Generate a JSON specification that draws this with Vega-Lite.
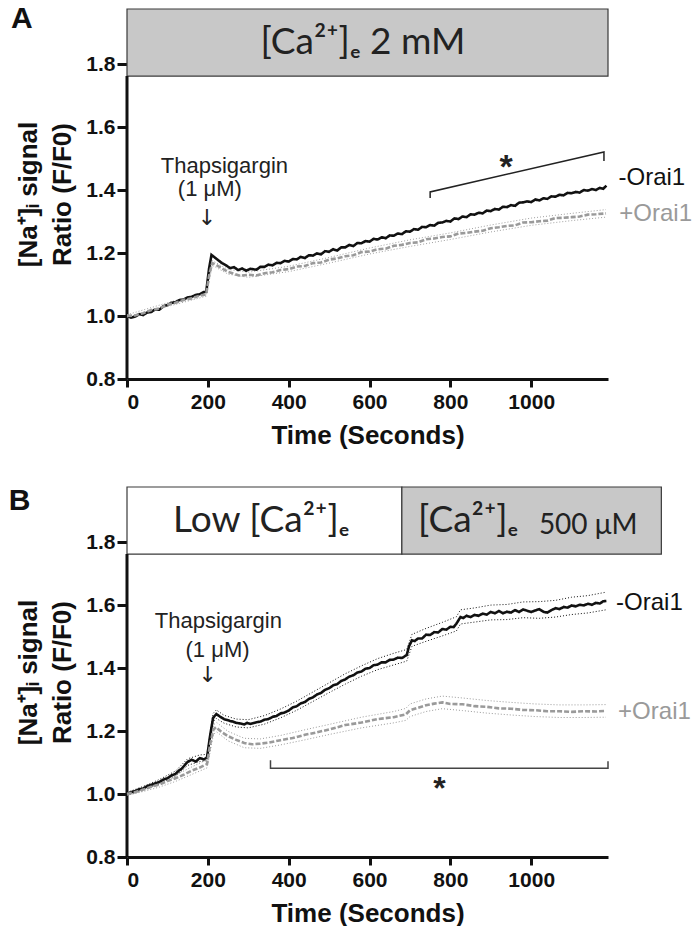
{
  "$schema": "https://vega.github.io/schema/vega-lite/v6.json",
  "background": "white",
  "padding": {"left": 8, "top": 4, "right": 0, "bottom": 0},
  "spacing": 37,
  "config": {
    "view": {"stroke": null},
    "font": "Liberation Sans",
    "axis": {
      "grid": false,
      "domainColor": "#111111",
      "domainWidth": 3,
      "tickColor": "#111111",
      "tickWidth": 3,
      "labelFont": "Liberation Sans",
      "labelFontWeight": "bold",
      "labelFontSize": 21,
      "labelColor": "#111111",
      "titleFont": "Liberation Sans",
      "titleFontWeight": "bold",
      "titleFontSize": 26,
      "titleColor": "#111111"
    },
    "axisX": {"tickSize": 8, "labelPadding": 4, "titlePadding": 10},
    "axisY": {"tickSize": 10, "labelPadding": 2, "titlePadding": 10, "titleLineHeight": 34}
  },
  "datasets": {
    "mainA": [
      {"s": "-Orai1", "t": 0, "v": 1.0}, {"s": "-Orai1", "t": 10, "v": 0.995}, {"s": "-Orai1", "t": 20, "v": 0.998}, {"s": "-Orai1", "t": 30, "v": 1.006}, {"s": "-Orai1", "t": 40, "v": 1.003}, {"s": "-Orai1", "t": 50, "v": 1.011}, {"s": "-Orai1", "t": 60, "v": 1.013}, {"s": "-Orai1", "t": 70, "v": 1.021}, {"s": "-Orai1", "t": 80, "v": 1.02}, {"s": "-Orai1", "t": 90, "v": 1.031}, {"s": "-Orai1", "t": 100, "v": 1.035}, {"s": "-Orai1", "t": 110, "v": 1.042}, {"s": "-Orai1", "t": 120, "v": 1.044}, {"s": "-Orai1", "t": 130, "v": 1.051}, {"s": "-Orai1", "t": 140, "v": 1.052}, {"s": "-Orai1", "t": 150, "v": 1.059}, {"s": "-Orai1", "t": 160, "v": 1.061}, {"s": "-Orai1", "t": 170, "v": 1.067}, {"s": "-Orai1", "t": 180, "v": 1.069}, {"s": "-Orai1", "t": 190, "v": 1.076}, {"s": "-Orai1", "t": 196, "v": 1.077},
      {"s": "-Orai1", "t": 203, "v": 1.15}, {"s": "-Orai1", "t": 209, "v": 1.194}, {"s": "-Orai1", "t": 215, "v": 1.188}, {"s": "-Orai1", "t": 225, "v": 1.178}, {"s": "-Orai1", "t": 235, "v": 1.168}, {"s": "-Orai1", "t": 245, "v": 1.161}, {"s": "-Orai1", "t": 255, "v": 1.152}, {"s": "-Orai1", "t": 265, "v": 1.155}, {"s": "-Orai1", "t": 275, "v": 1.146}, {"s": "-Orai1", "t": 285, "v": 1.151}, {"s": "-Orai1", "t": 295, "v": 1.144}, {"s": "-Orai1", "t": 305, "v": 1.15}, {"s": "-Orai1", "t": 320, "v": 1.147}, {"s": "-Orai1", "t": 330, "v": 1.156}, {"s": "-Orai1", "t": 340, "v": 1.156}, {"s": "-Orai1", "t": 350, "v": 1.163}, {"s": "-Orai1", "t": 360, "v": 1.161}, {"s": "-Orai1", "t": 370, "v": 1.169}, {"s": "-Orai1", "t": 380, "v": 1.168}, {"s": "-Orai1", "t": 390, "v": 1.175}, {"s": "-Orai1", "t": 400, "v": 1.173}, {"s": "-Orai1", "t": 410, "v": 1.181}, {"s": "-Orai1", "t": 420, "v": 1.18}, {"s": "-Orai1", "t": 430, "v": 1.188}, {"s": "-Orai1", "t": 440, "v": 1.184}, {"s": "-Orai1", "t": 450, "v": 1.193}, {"s": "-Orai1", "t": 460, "v": 1.192}, {"s": "-Orai1", "t": 470, "v": 1.199}, {"s": "-Orai1", "t": 480, "v": 1.196}, {"s": "-Orai1", "t": 490, "v": 1.206}, {"s": "-Orai1", "t": 500, "v": 1.204}, {"s": "-Orai1", "t": 510, "v": 1.212}, {"s": "-Orai1", "t": 520, "v": 1.208}, {"s": "-Orai1", "t": 530, "v": 1.218}, {"s": "-Orai1", "t": 540, "v": 1.218}, {"s": "-Orai1", "t": 550, "v": 1.226}, {"s": "-Orai1", "t": 560, "v": 1.222}, {"s": "-Orai1", "t": 570, "v": 1.232}, {"s": "-Orai1", "t": 580, "v": 1.231}, {"s": "-Orai1", "t": 590, "v": 1.238}, {"s": "-Orai1", "t": 600, "v": 1.236}, {"s": "-Orai1", "t": 610, "v": 1.245}, {"s": "-Orai1", "t": 620, "v": 1.243}, {"s": "-Orai1", "t": 630, "v": 1.25}, {"s": "-Orai1", "t": 640, "v": 1.247}, {"s": "-Orai1", "t": 650, "v": 1.256}, {"s": "-Orai1", "t": 660, "v": 1.255}, {"s": "-Orai1", "t": 670, "v": 1.262}, {"s": "-Orai1", "t": 680, "v": 1.26}, {"s": "-Orai1", "t": 690, "v": 1.269}, {"s": "-Orai1", "t": 700, "v": 1.268}, {"s": "-Orai1", "t": 710, "v": 1.276}, {"s": "-Orai1", "t": 720, "v": 1.274}, {"s": "-Orai1", "t": 730, "v": 1.283}, {"s": "-Orai1", "t": 740, "v": 1.282}, {"s": "-Orai1", "t": 750, "v": 1.289}, {"s": "-Orai1", "t": 760, "v": 1.287}, {"s": "-Orai1", "t": 770, "v": 1.296}, {"s": "-Orai1", "t": 780, "v": 1.297}, {"s": "-Orai1", "t": 790, "v": 1.302}, {"s": "-Orai1", "t": 800, "v": 1.3}, {"s": "-Orai1", "t": 810, "v": 1.31}, {"s": "-Orai1", "t": 820, "v": 1.308}, {"s": "-Orai1", "t": 830, "v": 1.316}, {"s": "-Orai1", "t": 840, "v": 1.314}, {"s": "-Orai1", "t": 850, "v": 1.323}, {"s": "-Orai1", "t": 860, "v": 1.322}, {"s": "-Orai1", "t": 870, "v": 1.328}, {"s": "-Orai1", "t": 880, "v": 1.326}, {"s": "-Orai1", "t": 890, "v": 1.335}, {"s": "-Orai1", "t": 900, "v": 1.333}, {"s": "-Orai1", "t": 910, "v": 1.34}, {"s": "-Orai1", "t": 920, "v": 1.338}, {"s": "-Orai1", "t": 930, "v": 1.347}, {"s": "-Orai1", "t": 940, "v": 1.346}, {"s": "-Orai1", "t": 950, "v": 1.352}, {"s": "-Orai1", "t": 960, "v": 1.35}, {"s": "-Orai1", "t": 970, "v": 1.36}, {"s": "-Orai1", "t": 980, "v": 1.361}, {"s": "-Orai1", "t": 990, "v": 1.364}, {"s": "-Orai1", "t": 1000, "v": 1.362}, {"s": "-Orai1", "t": 1010, "v": 1.37}, {"s": "-Orai1", "t": 1020, "v": 1.367}, {"s": "-Orai1", "t": 1030, "v": 1.374}, {"s": "-Orai1", "t": 1040, "v": 1.372}, {"s": "-Orai1", "t": 1050, "v": 1.38}, {"s": "-Orai1", "t": 1060, "v": 1.379}, {"s": "-Orai1", "t": 1070, "v": 1.385}, {"s": "-Orai1", "t": 1080, "v": 1.383}, {"s": "-Orai1", "t": 1090, "v": 1.391}, {"s": "-Orai1", "t": 1100, "v": 1.39}, {"s": "-Orai1", "t": 1110, "v": 1.394}, {"s": "-Orai1", "t": 1120, "v": 1.392}, {"s": "-Orai1", "t": 1130, "v": 1.4}, {"s": "-Orai1", "t": 1140, "v": 1.398}, {"s": "-Orai1", "t": 1150, "v": 1.403}, {"s": "-Orai1", "t": 1160, "v": 1.4}, {"s": "-Orai1", "t": 1170, "v": 1.407}, {"s": "-Orai1", "t": 1178, "v": 1.404}, {"s": "-Orai1", "t": 1186, "v": 1.414},
      {"s": "+Orai1", "t": 0, "v": 1.0}, {"s": "+Orai1", "t": 20, "v": 1.002}, {"s": "+Orai1", "t": 40, "v": 1.009}, {"s": "+Orai1", "t": 60, "v": 1.019}, {"s": "+Orai1", "t": 80, "v": 1.024}, {"s": "+Orai1", "t": 100, "v": 1.036}, {"s": "+Orai1", "t": 120, "v": 1.042}, {"s": "+Orai1", "t": 140, "v": 1.051}, {"s": "+Orai1", "t": 160, "v": 1.056}, {"s": "+Orai1", "t": 180, "v": 1.065}, {"s": "+Orai1", "t": 196, "v": 1.069},
      {"s": "+Orai1", "t": 204, "v": 1.135}, {"s": "+Orai1", "t": 211, "v": 1.168}, {"s": "+Orai1", "t": 220, "v": 1.163}, {"s": "+Orai1", "t": 235, "v": 1.151}, {"s": "+Orai1", "t": 250, "v": 1.14}, {"s": "+Orai1", "t": 265, "v": 1.134}, {"s": "+Orai1", "t": 280, "v": 1.128}, {"s": "+Orai1", "t": 300, "v": 1.131}, {"s": "+Orai1", "t": 320, "v": 1.129}, {"s": "+Orai1", "t": 340, "v": 1.136}, {"s": "+Orai1", "t": 360, "v": 1.139}, {"s": "+Orai1", "t": 380, "v": 1.146}, {"s": "+Orai1", "t": 400, "v": 1.149}, {"s": "+Orai1", "t": 420, "v": 1.157}, {"s": "+Orai1", "t": 440, "v": 1.159}, {"s": "+Orai1", "t": 460, "v": 1.168}, {"s": "+Orai1", "t": 480, "v": 1.17}, {"s": "+Orai1", "t": 500, "v": 1.179}, {"s": "+Orai1", "t": 520, "v": 1.183}, {"s": "+Orai1", "t": 540, "v": 1.19}, {"s": "+Orai1", "t": 560, "v": 1.193}, {"s": "+Orai1", "t": 580, "v": 1.203}, {"s": "+Orai1", "t": 600, "v": 1.205}, {"s": "+Orai1", "t": 620, "v": 1.212}, {"s": "+Orai1", "t": 640, "v": 1.214}, {"s": "+Orai1", "t": 660, "v": 1.223}, {"s": "+Orai1", "t": 680, "v": 1.226}, {"s": "+Orai1", "t": 700, "v": 1.232}, {"s": "+Orai1", "t": 720, "v": 1.234}, {"s": "+Orai1", "t": 740, "v": 1.244}, {"s": "+Orai1", "t": 760, "v": 1.246}, {"s": "+Orai1", "t": 780, "v": 1.251}, {"s": "+Orai1", "t": 800, "v": 1.253}, {"s": "+Orai1", "t": 820, "v": 1.262}, {"s": "+Orai1", "t": 840, "v": 1.264}, {"s": "+Orai1", "t": 860, "v": 1.268}, {"s": "+Orai1", "t": 880, "v": 1.271}, {"s": "+Orai1", "t": 900, "v": 1.279}, {"s": "+Orai1", "t": 920, "v": 1.282}, {"s": "+Orai1", "t": 940, "v": 1.286}, {"s": "+Orai1", "t": 960, "v": 1.288}, {"s": "+Orai1", "t": 980, "v": 1.297}, {"s": "+Orai1", "t": 1000, "v": 1.298}, {"s": "+Orai1", "t": 1020, "v": 1.301}, {"s": "+Orai1", "t": 1040, "v": 1.303}, {"s": "+Orai1", "t": 1060, "v": 1.311}, {"s": "+Orai1", "t": 1080, "v": 1.312}, {"s": "+Orai1", "t": 1100, "v": 1.314}, {"s": "+Orai1", "t": 1120, "v": 1.316}, {"s": "+Orai1", "t": 1140, "v": 1.322}, {"s": "+Orai1", "t": 1160, "v": 1.323}, {"s": "+Orai1", "t": 1185, "v": 1.326}
    ],
    "mainB": [
      {"s": "-Orai1", "t": 0, "v": 1.0}, {"s": "-Orai1", "t": 10, "v": 1.006}, {"s": "-Orai1", "t": 20, "v": 1.009}, {"s": "-Orai1", "t": 30, "v": 1.015}, {"s": "-Orai1", "t": 40, "v": 1.017}, {"s": "-Orai1", "t": 50, "v": 1.025}, {"s": "-Orai1", "t": 60, "v": 1.029}, {"s": "-Orai1", "t": 70, "v": 1.034}, {"s": "-Orai1", "t": 80, "v": 1.038}, {"s": "-Orai1", "t": 90, "v": 1.046}, {"s": "-Orai1", "t": 100, "v": 1.05}, {"s": "-Orai1", "t": 110, "v": 1.059}, {"s": "-Orai1", "t": 120, "v": 1.064}, {"s": "-Orai1", "t": 128, "v": 1.074}, {"s": "-Orai1", "t": 135, "v": 1.08}, {"s": "-Orai1", "t": 143, "v": 1.092}, {"s": "-Orai1", "t": 150, "v": 1.102}, {"s": "-Orai1", "t": 160, "v": 1.109}, {"s": "-Orai1", "t": 170, "v": 1.103}, {"s": "-Orai1", "t": 180, "v": 1.114}, {"s": "-Orai1", "t": 190, "v": 1.11}, {"s": "-Orai1", "t": 198, "v": 1.116},
      {"s": "-Orai1", "t": 205, "v": 1.18}, {"s": "-Orai1", "t": 213, "v": 1.242}, {"s": "-Orai1", "t": 221, "v": 1.254}, {"s": "-Orai1", "t": 230, "v": 1.246}, {"s": "-Orai1", "t": 240, "v": 1.238}, {"s": "-Orai1", "t": 248, "v": 1.235}, {"s": "-Orai1", "t": 255, "v": 1.232}, {"s": "-Orai1", "t": 262, "v": 1.23}, {"s": "-Orai1", "t": 270, "v": 1.226}, {"s": "-Orai1", "t": 280, "v": 1.224}, {"s": "-Orai1", "t": 290, "v": 1.221}, {"s": "-Orai1", "t": 297, "v": 1.226}, {"s": "-Orai1", "t": 305, "v": 1.223}, {"s": "-Orai1", "t": 320, "v": 1.228}, {"s": "-Orai1", "t": 330, "v": 1.23}, {"s": "-Orai1", "t": 340, "v": 1.236}, {"s": "-Orai1", "t": 350, "v": 1.238}, {"s": "-Orai1", "t": 360, "v": 1.245}, {"s": "-Orai1", "t": 370, "v": 1.248}, {"s": "-Orai1", "t": 380, "v": 1.256}, {"s": "-Orai1", "t": 390, "v": 1.259}, {"s": "-Orai1", "t": 400, "v": 1.265}, {"s": "-Orai1", "t": 410, "v": 1.275}, {"s": "-Orai1", "t": 420, "v": 1.279}, {"s": "-Orai1", "t": 430, "v": 1.288}, {"s": "-Orai1", "t": 440, "v": 1.292}, {"s": "-Orai1", "t": 450, "v": 1.302}, {"s": "-Orai1", "t": 460, "v": 1.307}, {"s": "-Orai1", "t": 470, "v": 1.316}, {"s": "-Orai1", "t": 480, "v": 1.321}, {"s": "-Orai1", "t": 490, "v": 1.331}, {"s": "-Orai1", "t": 500, "v": 1.336}, {"s": "-Orai1", "t": 510, "v": 1.345}, {"s": "-Orai1", "t": 520, "v": 1.349}, {"s": "-Orai1", "t": 530, "v": 1.359}, {"s": "-Orai1", "t": 540, "v": 1.364}, {"s": "-Orai1", "t": 550, "v": 1.373}, {"s": "-Orai1", "t": 560, "v": 1.377}, {"s": "-Orai1", "t": 570, "v": 1.386}, {"s": "-Orai1", "t": 580, "v": 1.389}, {"s": "-Orai1", "t": 590, "v": 1.398}, {"s": "-Orai1", "t": 600, "v": 1.4}, {"s": "-Orai1", "t": 610, "v": 1.409}, {"s": "-Orai1", "t": 620, "v": 1.411}, {"s": "-Orai1", "t": 630, "v": 1.418}, {"s": "-Orai1", "t": 640, "v": 1.418}, {"s": "-Orai1", "t": 650, "v": 1.426}, {"s": "-Orai1", "t": 660, "v": 1.427}, {"s": "-Orai1", "t": 670, "v": 1.433}, {"s": "-Orai1", "t": 680, "v": 1.432}, {"s": "-Orai1", "t": 692, "v": 1.441},
      {"s": "-Orai1", "t": 698, "v": 1.47}, {"s": "-Orai1", "t": 705, "v": 1.488}, {"s": "-Orai1", "t": 712, "v": 1.486}, {"s": "-Orai1", "t": 720, "v": 1.494}, {"s": "-Orai1", "t": 730, "v": 1.494}, {"s": "-Orai1", "t": 740, "v": 1.506}, {"s": "-Orai1", "t": 750, "v": 1.505}, {"s": "-Orai1", "t": 760, "v": 1.514}, {"s": "-Orai1", "t": 770, "v": 1.513}, {"s": "-Orai1", "t": 780, "v": 1.524}, {"s": "-Orai1", "t": 790, "v": 1.522}, {"s": "-Orai1", "t": 800, "v": 1.531}, {"s": "-Orai1", "t": 808, "v": 1.53}, {"s": "-Orai1", "t": 815, "v": 1.541}, {"s": "-Orai1", "t": 825, "v": 1.562}, {"s": "-Orai1", "t": 832, "v": 1.559}, {"s": "-Orai1", "t": 840, "v": 1.566}, {"s": "-Orai1", "t": 850, "v": 1.562}, {"s": "-Orai1", "t": 860, "v": 1.569}, {"s": "-Orai1", "t": 870, "v": 1.566}, {"s": "-Orai1", "t": 880, "v": 1.573}, {"s": "-Orai1", "t": 890, "v": 1.57}, {"s": "-Orai1", "t": 900, "v": 1.578}, {"s": "-Orai1", "t": 910, "v": 1.574}, {"s": "-Orai1", "t": 920, "v": 1.581}, {"s": "-Orai1", "t": 930, "v": 1.574}, {"s": "-Orai1", "t": 940, "v": 1.579}, {"s": "-Orai1", "t": 950, "v": 1.576}, {"s": "-Orai1", "t": 960, "v": 1.584}, {"s": "-Orai1", "t": 970, "v": 1.578}, {"s": "-Orai1", "t": 980, "v": 1.586}, {"s": "-Orai1", "t": 990, "v": 1.582}, {"s": "-Orai1", "t": 1000, "v": 1.578}, {"s": "-Orai1", "t": 1010, "v": 1.583}, {"s": "-Orai1", "t": 1020, "v": 1.587}, {"s": "-Orai1", "t": 1030, "v": 1.579}, {"s": "-Orai1", "t": 1040, "v": 1.576}, {"s": "-Orai1", "t": 1050, "v": 1.584}, {"s": "-Orai1", "t": 1060, "v": 1.59}, {"s": "-Orai1", "t": 1070, "v": 1.587}, {"s": "-Orai1", "t": 1080, "v": 1.594}, {"s": "-Orai1", "t": 1090, "v": 1.592}, {"s": "-Orai1", "t": 1100, "v": 1.599}, {"s": "-Orai1", "t": 1110, "v": 1.596}, {"s": "-Orai1", "t": 1120, "v": 1.601}, {"s": "-Orai1", "t": 1130, "v": 1.599}, {"s": "-Orai1", "t": 1140, "v": 1.604}, {"s": "-Orai1", "t": 1150, "v": 1.601}, {"s": "-Orai1", "t": 1160, "v": 1.607}, {"s": "-Orai1", "t": 1170, "v": 1.605}, {"s": "-Orai1", "t": 1178, "v": 1.612}, {"s": "-Orai1", "t": 1186, "v": 1.613},
      {"s": "+Orai1", "t": 0, "v": 1.0}, {"s": "+Orai1", "t": 20, "v": 1.006}, {"s": "+Orai1", "t": 40, "v": 1.014}, {"s": "+Orai1", "t": 60, "v": 1.023}, {"s": "+Orai1", "t": 80, "v": 1.03}, {"s": "+Orai1", "t": 100, "v": 1.041}, {"s": "+Orai1", "t": 120, "v": 1.05}, {"s": "+Orai1", "t": 140, "v": 1.061}, {"s": "+Orai1", "t": 160, "v": 1.074}, {"s": "+Orai1", "t": 180, "v": 1.084}, {"s": "+Orai1", "t": 198, "v": 1.096},
      {"s": "+Orai1", "t": 206, "v": 1.16}, {"s": "+Orai1", "t": 214, "v": 1.205}, {"s": "+Orai1", "t": 220, "v": 1.212}, {"s": "+Orai1", "t": 235, "v": 1.196}, {"s": "+Orai1", "t": 250, "v": 1.184}, {"s": "+Orai1", "t": 270, "v": 1.172}, {"s": "+Orai1", "t": 290, "v": 1.162}, {"s": "+Orai1", "t": 310, "v": 1.158}, {"s": "+Orai1", "t": 330, "v": 1.16}, {"s": "+Orai1", "t": 350, "v": 1.163}, {"s": "+Orai1", "t": 380, "v": 1.171}, {"s": "+Orai1", "t": 410, "v": 1.178}, {"s": "+Orai1", "t": 440, "v": 1.188}, {"s": "+Orai1", "t": 470, "v": 1.196}, {"s": "+Orai1", "t": 500, "v": 1.205}, {"s": "+Orai1", "t": 540, "v": 1.219}, {"s": "+Orai1", "t": 580, "v": 1.227}, {"s": "+Orai1", "t": 620, "v": 1.238}, {"s": "+Orai1", "t": 660, "v": 1.244}, {"s": "+Orai1", "t": 690, "v": 1.253}, {"s": "+Orai1", "t": 700, "v": 1.266}, {"s": "+Orai1", "t": 720, "v": 1.274}, {"s": "+Orai1", "t": 740, "v": 1.282}, {"s": "+Orai1", "t": 760, "v": 1.287}, {"s": "+Orai1", "t": 780, "v": 1.291}, {"s": "+Orai1", "t": 800, "v": 1.286}, {"s": "+Orai1", "t": 830, "v": 1.285}, {"s": "+Orai1", "t": 860, "v": 1.279}, {"s": "+Orai1", "t": 890, "v": 1.277}, {"s": "+Orai1", "t": 920, "v": 1.272}, {"s": "+Orai1", "t": 950, "v": 1.271}, {"s": "+Orai1", "t": 980, "v": 1.267}, {"s": "+Orai1", "t": 1010, "v": 1.266}, {"s": "+Orai1", "t": 1040, "v": 1.263}, {"s": "+Orai1", "t": 1070, "v": 1.263}, {"s": "+Orai1", "t": 1100, "v": 1.261}, {"s": "+Orai1", "t": 1130, "v": 1.263}, {"s": "+Orai1", "t": 1160, "v": 1.262}, {"s": "+Orai1", "t": 1185, "v": 1.264}
    ],
    "bandA": [
      {"s": "+Orai1", "t": 0, "lo": 0.996, "hi": 1.004}, {"s": "+Orai1", "t": 100, "lo": 1.03, "hi": 1.042}, {"s": "+Orai1", "t": 196, "lo": 1.063, "hi": 1.076}, {"s": "+Orai1", "t": 211, "lo": 1.161, "hi": 1.176}, {"s": "+Orai1", "t": 250, "lo": 1.133, "hi": 1.148}, {"s": "+Orai1", "t": 300, "lo": 1.123, "hi": 1.139}, {"s": "+Orai1", "t": 400, "lo": 1.141, "hi": 1.158}, {"s": "+Orai1", "t": 500, "lo": 1.168, "hi": 1.186}, {"s": "+Orai1", "t": 600, "lo": 1.197, "hi": 1.216}, {"s": "+Orai1", "t": 700, "lo": 1.221, "hi": 1.242}, {"s": "+Orai1", "t": 800, "lo": 1.243, "hi": 1.264}, {"s": "+Orai1", "t": 900, "lo": 1.267, "hi": 1.289}, {"s": "+Orai1", "t": 1000, "lo": 1.288, "hi": 1.311}, {"s": "+Orai1", "t": 1100, "lo": 1.303, "hi": 1.326}, {"s": "+Orai1", "t": 1185, "lo": 1.314, "hi": 1.338}
    ],
    "bandB": [
      {"s": "-Orai1", "t": 0, "lo": 0.995, "hi": 1.005}, {"s": "-Orai1", "t": 40, "lo": 1.012, "hi": 1.024}, {"s": "-Orai1", "t": 80, "lo": 1.032, "hi": 1.046}, {"s": "-Orai1", "t": 120, "lo": 1.056, "hi": 1.073}, {"s": "-Orai1", "t": 150, "lo": 1.091, "hi": 1.112}, {"s": "-Orai1", "t": 180, "lo": 1.103, "hi": 1.124}, {"s": "-Orai1", "t": 198, "lo": 1.106, "hi": 1.126}, {"s": "-Orai1", "t": 213, "lo": 1.229, "hi": 1.256}, {"s": "-Orai1", "t": 221, "lo": 1.24, "hi": 1.267}, {"s": "-Orai1", "t": 240, "lo": 1.225, "hi": 1.25}, {"s": "-Orai1", "t": 270, "lo": 1.213, "hi": 1.238}, {"s": "-Orai1", "t": 300, "lo": 1.21, "hi": 1.236}, {"s": "-Orai1", "t": 340, "lo": 1.222, "hi": 1.249}, {"s": "-Orai1", "t": 380, "lo": 1.242, "hi": 1.27}, {"s": "-Orai1", "t": 420, "lo": 1.266, "hi": 1.295}, {"s": "-Orai1", "t": 460, "lo": 1.294, "hi": 1.324}, {"s": "-Orai1", "t": 500, "lo": 1.322, "hi": 1.353}, {"s": "-Orai1", "t": 540, "lo": 1.349, "hi": 1.382}, {"s": "-Orai1", "t": 580, "lo": 1.374, "hi": 1.407}, {"s": "-Orai1", "t": 620, "lo": 1.395, "hi": 1.43}, {"s": "-Orai1", "t": 660, "lo": 1.41, "hi": 1.447}, {"s": "-Orai1", "t": 692, "lo": 1.422, "hi": 1.459}, {"s": "-Orai1", "t": 705, "lo": 1.469, "hi": 1.507}, {"s": "-Orai1", "t": 740, "lo": 1.485, "hi": 1.526}, {"s": "-Orai1", "t": 780, "lo": 1.502, "hi": 1.545}, {"s": "-Orai1", "t": 815, "lo": 1.518, "hi": 1.563}, {"s": "-Orai1", "t": 825, "lo": 1.54, "hi": 1.585}, {"s": "-Orai1", "t": 860, "lo": 1.546, "hi": 1.591}, {"s": "-Orai1", "t": 900, "lo": 1.553, "hi": 1.6}, {"s": "-Orai1", "t": 940, "lo": 1.554, "hi": 1.602}, {"s": "-Orai1", "t": 980, "lo": 1.56, "hi": 1.61}, {"s": "-Orai1", "t": 1020, "lo": 1.558, "hi": 1.611}, {"s": "-Orai1", "t": 1060, "lo": 1.562, "hi": 1.615}, {"s": "-Orai1", "t": 1100, "lo": 1.57, "hi": 1.625}, {"s": "-Orai1", "t": 1140, "lo": 1.575, "hi": 1.63}, {"s": "-Orai1", "t": 1185, "lo": 1.585, "hi": 1.641},
      {"s": "+Orai1", "t": 0, "lo": 0.996, "hi": 1.004}, {"s": "+Orai1", "t": 40, "lo": 1.008, "hi": 1.02}, {"s": "+Orai1", "t": 80, "lo": 1.022, "hi": 1.038}, {"s": "+Orai1", "t": 120, "lo": 1.04, "hi": 1.06}, {"s": "+Orai1", "t": 160, "lo": 1.062, "hi": 1.086}, {"s": "+Orai1", "t": 198, "lo": 1.083, "hi": 1.109}, {"s": "+Orai1", "t": 214, "lo": 1.19, "hi": 1.22}, {"s": "+Orai1", "t": 222, "lo": 1.197, "hi": 1.227}, {"s": "+Orai1", "t": 250, "lo": 1.169, "hi": 1.199}, {"s": "+Orai1", "t": 290, "lo": 1.147, "hi": 1.177}, {"s": "+Orai1", "t": 330, "lo": 1.145, "hi": 1.175}, {"s": "+Orai1", "t": 380, "lo": 1.156, "hi": 1.186}, {"s": "+Orai1", "t": 440, "lo": 1.172, "hi": 1.204}, {"s": "+Orai1", "t": 500, "lo": 1.189, "hi": 1.221}, {"s": "+Orai1", "t": 580, "lo": 1.21, "hi": 1.244}, {"s": "+Orai1", "t": 660, "lo": 1.226, "hi": 1.262}, {"s": "+Orai1", "t": 690, "lo": 1.234, "hi": 1.272}, {"s": "+Orai1", "t": 700, "lo": 1.246, "hi": 1.286}, {"s": "+Orai1", "t": 740, "lo": 1.262, "hi": 1.302}, {"s": "+Orai1", "t": 780, "lo": 1.271, "hi": 1.311}, {"s": "+Orai1", "t": 830, "lo": 1.265, "hi": 1.305}, {"s": "+Orai1", "t": 890, "lo": 1.257, "hi": 1.297}, {"s": "+Orai1", "t": 950, "lo": 1.251, "hi": 1.291}, {"s": "+Orai1", "t": 1010, "lo": 1.246, "hi": 1.286}, {"s": "+Orai1", "t": 1070, "lo": 1.243, "hi": 1.283}, {"s": "+Orai1", "t": 1130, "lo": 1.243, "hi": 1.283}, {"s": "+Orai1", "t": 1185, "lo": 1.244, "hi": 1.284}
    ]
  },
  "vconcat": [
    {
      "width": 481,
      "height": 370,
      "encoding": {
        "x": {"field": "t", "type": "quantitative", "scale": {"domain": [0, 1190], "nice": false, "zero": false}, "axis": {"values": [0, 200, 400, 600, 800, 1000], "format": "d", "title": "Time (Seconds)"}},
        "y": {"field": "v", "type": "quantitative", "scale": {"domain": [0.8, 1.975], "nice": false, "zero": false}, "axis": {"values": [0.8, 1.0, 1.2, 1.4, 1.6, 1.8], "format": ".1f", "title": ["[Na⁺]ᵢ signal", "Ratio (F/F0)"], "domain": false}}
      },
      "layer": [
        {"data": {"values": [{"t": 0, "t2": 1190, "v": 1.762, "v2": 1.975}]}, "mark": {"type": "rect", "fill": "#c8c8c8", "stroke": "#3a3a3a", "strokeWidth": 1.2, "clip": false}, "encoding": {"x2": {"field": "t2"}, "y2": {"field": "v2"}}},
        {"data": {"values": [{"t": 330, "v": 1.866, "label": "[Ca²⁺]ₑ 2 mM"}]}, "mark": {"type": "text", "font": "Lato", "fontSize": 37, "color": "#222222", "align": "left", "baseline": "middle", "clip": false}, "encoding": {"text": {"field": "label"}}},
        {"data": {"values": [{"t": 0, "v": 0.8, "v2": 1.762}]}, "mark": {"type": "rule", "strokeWidth": 3, "color": "#111111"}, "encoding": {"y2": {"field": "v2"}}},
        {"data": {"name": "bandA"}, "transform": [{"fold": ["lo", "hi"], "as": ["side", "v"]}], "mark": {"type": "line", "strokeWidth": 1, "strokeDash": [1, 2], "color": "#a0a0a0"}, "encoding": {"detail": {"field": "side", "type": "nominal"}}},
        {"data": {"name": "mainA"}, "mark": {"type": "line", "strokeWidth": 2.6}, "encoding": {
          "color": {"field": "s", "type": "nominal", "scale": {"domain": ["-Orai1", "+Orai1"], "range": ["#111111", "#9a9a9a"]}, "legend": null},
          "strokeDash": {"field": "s", "type": "nominal", "scale": {"domain": ["-Orai1", "+Orai1"], "range": [[1, 0], [5, 2]]}, "legend": null}}},
        {"data": {"values": [{"t": 750, "v": 1.375, "i": 0}, {"t": 750, "v": 1.394, "i": 1}, {"t": 1180, "v": 1.521, "i": 2}, {"t": 1180, "v": 1.492, "i": 3}]}, "mark": {"type": "line", "strokeWidth": 1.5, "color": "#222222", "clip": false}, "encoding": {"order": {"field": "i", "type": "quantitative"}}},
        {"data": {"values": [{"t": 938, "v": 1.47, "label": "*"}]}, "mark": {"type": "text", "fontSize": 34, "fontWeight": "bold", "color": "#222222", "align": "center", "baseline": "middle"}, "encoding": {"text": {"field": "label"}}},
        {"data": {"values": [{"t": 241, "v": 1.476, "label": "Thapsigargin"}, {"t": 205, "v": 1.403, "label": "(1 μM)"}]}, "mark": {"type": "text", "fontSize": 22, "color": "#222222", "align": "center", "baseline": "middle"}, "encoding": {"text": {"field": "label"}}},
        {"data": {"values": [{"t": 198, "v": 1.311, "label": "↓"}]}, "mark": {"type": "text", "fontSize": 22, "font": "DejaVu Sans", "color": "#222222", "align": "center", "baseline": "middle"}, "encoding": {"text": {"field": "label"}}},
        {"data": {"values": [{"t": 1216, "v": 1.438, "s": "-Orai1"}, {"t": 1218, "v": 1.324, "s": "+Orai1"}]}, "mark": {"type": "text", "fontSize": 24, "align": "left", "baseline": "middle", "clip": false}, "encoding": {"text": {"field": "s"}, "color": {"field": "s", "type": "nominal", "legend": null}}},
        {"data": {"values": [{"t": -260, "v": 1.943, "label": "A"}]}, "mark": {"type": "text", "fontSize": 30, "fontWeight": "bold", "color": "#111111", "align": "center", "baseline": "middle", "clip": false}, "encoding": {"text": {"field": "label"}}}
      ]
    },
    {
      "width": 481,
      "height": 370,
      "encoding": {
        "x": {"field": "t", "type": "quantitative", "scale": {"domain": [0, 1190], "nice": false, "zero": false}, "axis": {"values": [0, 200, 400, 600, 800, 1000], "format": "d", "title": "Time (Seconds)"}},
        "y": {"field": "v", "type": "quantitative", "scale": {"domain": [0.8, 1.975], "nice": false, "zero": false}, "axis": {"values": [0.8, 1.0, 1.2, 1.4, 1.6, 1.8], "format": ".1f", "title": ["[Na⁺]ᵢ signal", "Ratio (F/F0)"], "domain": false}}
      },
      "layer": [
        {"data": {"values": [{"t": 0, "t2": 680, "v": 1.762, "v2": 1.975}]}, "mark": {"type": "rect", "fill": "#ffffff", "stroke": "#3a3a3a", "strokeWidth": 1.2, "clip": false}, "encoding": {"x2": {"field": "t2"}, "y2": {"field": "v2"}}},
        {"data": {"values": [{"t": 680, "t2": 1322, "v": 1.762, "v2": 1.975}]}, "mark": {"type": "rect", "fill": "#c8c8c8", "stroke": "#3a3a3a", "strokeWidth": 1.2, "clip": false}, "encoding": {"x2": {"field": "t2"}, "y2": {"field": "v2"}}},
        {"data": {"values": [{"t": 114, "v": 1.866, "label": "Low [Ca²⁺]ₑ"}, {"t": 720, "v": 1.866, "label": "[Ca²⁺]ₑ"}]}, "mark": {"type": "text", "font": "Lato", "fontSize": 37, "color": "#222222", "align": "left", "baseline": "middle", "clip": false}, "encoding": {"text": {"field": "label"}}},
        {"data": {"values": [{"t": 1019, "v": 1.852, "label": "500 μM"}]}, "mark": {"type": "text", "font": "Lato", "fontSize": 28, "color": "#222222", "align": "left", "baseline": "middle", "clip": false}, "encoding": {"text": {"field": "label"}}},
        {"data": {"values": [{"t": 0, "v": 0.8, "v2": 1.762}]}, "mark": {"type": "rule", "strokeWidth": 3, "color": "#111111"}, "encoding": {"y2": {"field": "v2"}}},
        {"data": {"name": "bandB"}, "transform": [{"fold": ["lo", "hi"], "as": ["side", "v"]}], "mark": {"type": "line", "strokeWidth": 1, "strokeDash": [1, 2]}, "encoding": {
          "detail": {"field": "side", "type": "nominal"},
          "color": {"field": "s", "type": "nominal", "scale": {"domain": ["-Orai1", "+Orai1"], "range": ["#111111", "#9a9a9a"]}, "legend": null}}},
        {"data": {"name": "mainB"}, "mark": {"type": "line", "strokeWidth": 2.6}, "encoding": {
          "color": {"field": "s", "type": "nominal", "scale": {"domain": ["-Orai1", "+Orai1"], "range": ["#111111", "#9a9a9a"]}, "legend": null},
          "strokeDash": {"field": "s", "type": "nominal", "scale": {"domain": ["-Orai1", "+Orai1"], "range": [[1, 0], [5, 2]]}, "legend": null}}},
        {"data": {"values": [{"t": 355, "v": 1.107, "i": 0}, {"t": 355, "v": 1.082, "i": 1}, {"t": 1190, "v": 1.082, "i": 2}, {"t": 1190, "v": 1.104, "i": 3}]}, "mark": {"type": "line", "strokeWidth": 1.5, "color": "#444444", "clip": false}, "encoding": {"order": {"field": "i", "type": "quantitative"}}},
        {"data": {"values": [{"t": 773, "v": 1.015, "label": "*"}]}, "mark": {"type": "text", "fontSize": 32, "fontWeight": "bold", "color": "#222222", "align": "center", "baseline": "middle"}, "encoding": {"text": {"field": "label"}}},
        {"data": {"values": [{"t": 226, "v": 1.55, "label": "Thapsigargin"}, {"t": 224, "v": 1.456, "label": "(1 μM)"}]}, "mark": {"type": "text", "fontSize": 22, "color": "#222222", "align": "center", "baseline": "middle"}, "encoding": {"text": {"field": "label"}}},
        {"data": {"values": [{"t": 200, "v": 1.377, "label": "↓"}]}, "mark": {"type": "text", "fontSize": 22, "font": "DejaVu Sans", "color": "#222222", "align": "center", "baseline": "middle"}, "encoding": {"text": {"field": "label"}}},
        {"data": {"values": [{"t": 1210, "v": 1.607, "s": "-Orai1"}, {"t": 1215, "v": 1.261, "s": "+Orai1"}]}, "mark": {"type": "text", "fontSize": 24, "align": "left", "baseline": "middle", "clip": false}, "encoding": {"text": {"field": "s"}, "color": {"field": "s", "type": "nominal", "legend": null}}},
        {"data": {"values": [{"t": -266, "v": 1.931, "label": "B"}]}, "mark": {"type": "text", "fontSize": 30, "fontWeight": "bold", "color": "#111111", "align": "center", "baseline": "middle", "clip": false}, "encoding": {"text": {"field": "label"}}}
      ]
    }
  ]
}
